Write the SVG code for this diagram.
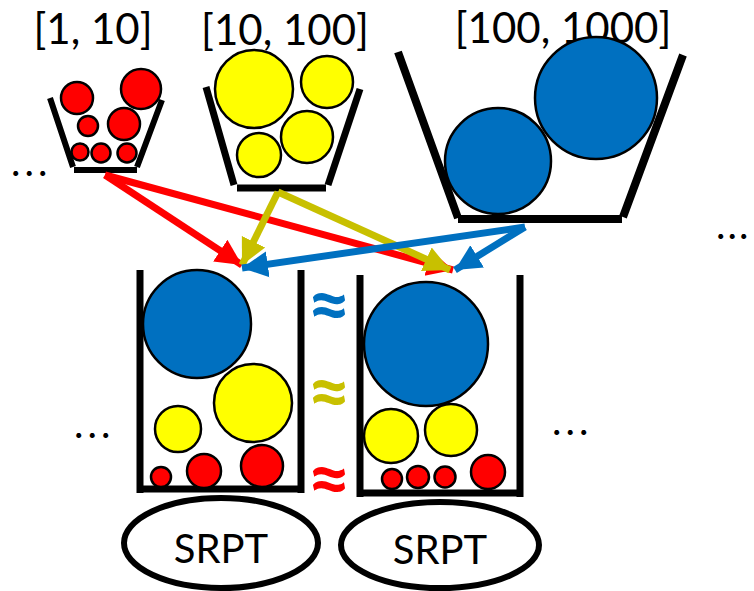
<svg xmlns="http://www.w3.org/2000/svg" width="754" height="591" viewBox="0 0 754 591">
<style>
.lbl{font-family:Lato,"Liberation Sans",sans-serif;font-size:42px;fill:#000;text-anchor:middle}
.srpt{font-family:Lato,"Liberation Sans",sans-serif;font-size:40px;fill:#000;text-anchor:middle}
.dots{font-family:Lato,"Liberation Sans",sans-serif;font-size:40px;fill:#000;letter-spacing:4px}
.approx{font-family:Lato,"Liberation Sans",sans-serif;font-size:76px;text-anchor:middle;font-weight:bold}
.wall{stroke:#000;fill:none}
.r{fill:#FF0000;stroke:#000;stroke-width:2.5}
.y{fill:#FFFF00;stroke:#000;stroke-width:2.5}
.b{fill:#0070C0;stroke:#000;stroke-width:2.5}
.ar{fill:none;stroke-width:7}
</style>
<defs>
<marker id="hr" markerUnits="userSpaceOnUse" markerWidth="28" markerHeight="28" viewBox="0 0 28 28" refX="26" refY="14" orient="auto"><path d="M0,1 L26,14 L0,27 Z" fill="#FF0000"/></marker>
<marker id="hy" markerUnits="userSpaceOnUse" markerWidth="28" markerHeight="28" viewBox="0 0 28 28" refX="26" refY="14" orient="auto"><path d="M0,1 L26,14 L0,27 Z" fill="#C8C000"/></marker>
<marker id="hb" markerUnits="userSpaceOnUse" markerWidth="28" markerHeight="28" viewBox="0 0 28 28" refX="26" refY="14" orient="auto"><path d="M0,1 L26,14 L0,27 Z" fill="#0070C0"/></marker>
</defs>

<g id="label-1-10"><text class="lbl" x="93" y="44">[1, 10]</text></g>
<g id="label-10-100"><text class="lbl" x="285" y="45">[10, 100]</text></g>
<g id="label-100-1000"><text class="lbl" x="563" y="43">[100, 1000]</text></g>

<g id="bucket-small">
<path class="wall" stroke-width="6" d="M50,98 L73,167 M162,100 L137,167 M74,170 L137,170"/>
<circle class="r" cx="77" cy="98" r="16"/>
<circle class="r" cx="141" cy="89" r="20"/>
<circle class="r" cx="88" cy="126" r="10"/>
<circle class="r" cx="124" cy="124" r="16"/>
<circle class="r" cx="80" cy="152" r="8.5"/>
<circle class="r" cx="101" cy="153" r="9.5"/>
<circle class="r" cx="127" cy="153" r="9.5"/>
</g>

<g id="bucket-medium">
<path class="wall" stroke-width="7" d="M206,87 L234,185 M360,89 L328,185 M237,188 L326,188"/>
<circle class="y" cx="254" cy="89" r="39"/>
<circle class="y" cx="327" cy="82" r="26"/>
<circle class="y" cx="307" cy="137" r="26"/>
<circle class="y" cx="259" cy="155" r="22"/>
</g>

<g id="bucket-large">
<path class="wall" stroke-width="8" d="M398,52 L458,218 M683,55 L623,217 M458,219 L622,219"/>
<circle class="b" cx="498" cy="161" r="53"/>
<circle class="b" cx="596" cy="98" r="61"/>
</g>

<g id="dots-top-left"><text class="dots" x="11" y="176">...</text></g>
<g id="dots-top-right"><text class="dots" x="716" y="239" style="letter-spacing:2px">...</text></g>

<g id="connectors">
<path class="ar" stroke="#FF0000" d="M105,175 L242,265" marker-end="url(#hr)"/>
<path class="ar" stroke="#FF0000" d="M105,175 L453,270" marker-end="url(#hr)"/>
<path class="ar" stroke="#C8C000" d="M278,192 L242,265" marker-end="url(#hy)"/>
<path class="ar" stroke="#C8C000" d="M278,192 L450,270" marker-end="url(#hy)"/>
<path class="ar" stroke="#0070C0" d="M525,227 L242,268" marker-end="url(#hb)"/>
<path class="ar" stroke="#0070C0" d="M525,227 L455,270" marker-end="url(#hb)"/>
</g>

<g id="server-left">
<path class="wall" stroke-width="7" d="M140,270 L140,493 M301,270 L301,493 M137,489 L304,489"/>
<circle class="b" cx="197" cy="324" r="54"/>
<circle class="y" cx="253" cy="403" r="39"/>
<circle class="y" cx="178" cy="429" r="23"/>
<circle class="r" cx="161" cy="477" r="10"/>
<circle class="r" cx="204" cy="471" r="17"/>
<circle class="r" cx="262" cy="466" r="21"/>
</g>

<g id="server-right">
<path class="wall" stroke-width="7" d="M360,275 L360,497 M520,275 L520,497 M357,493 L523,493"/>
<circle class="b" cx="426" cy="344" r="62"/>
<circle class="y" cx="391" cy="436" r="27"/>
<circle class="y" cx="451" cy="430" r="26"/>
<circle class="r" cx="392" cy="479" r="10"/>
<circle class="r" cx="418" cy="477" r="11"/>
<circle class="r" cx="445" cy="477" r="10.5"/>
<circle class="r" cx="488" cy="472" r="17"/>
</g>

<g id="approx-blue"><text class="approx" x="329" y="332" fill="#0070C0">≈</text></g>
<g id="approx-yellow"><text class="approx" x="329" y="419" fill="#C8C000">≈</text></g>
<g id="approx-red"><text class="approx" x="329" y="506" fill="#FF0000">≈</text></g>

<g id="dots-mid-left"><text class="dots" x="74" y="438">...</text></g>
<g id="dots-mid-right"><text class="dots" x="552" y="435">...</text></g>

<g id="srpt-left">
<ellipse cx="221" cy="543" rx="97" ry="45" fill="none" stroke="#000" stroke-width="6"/>
<text class="srpt" x="221" y="563">SRPT</text>
</g>
<g id="srpt-right">
<ellipse cx="440" cy="545" rx="99" ry="43" fill="none" stroke="#000" stroke-width="6"/>
<text class="srpt" x="440" y="564">SRPT</text>
</g>
</svg>
